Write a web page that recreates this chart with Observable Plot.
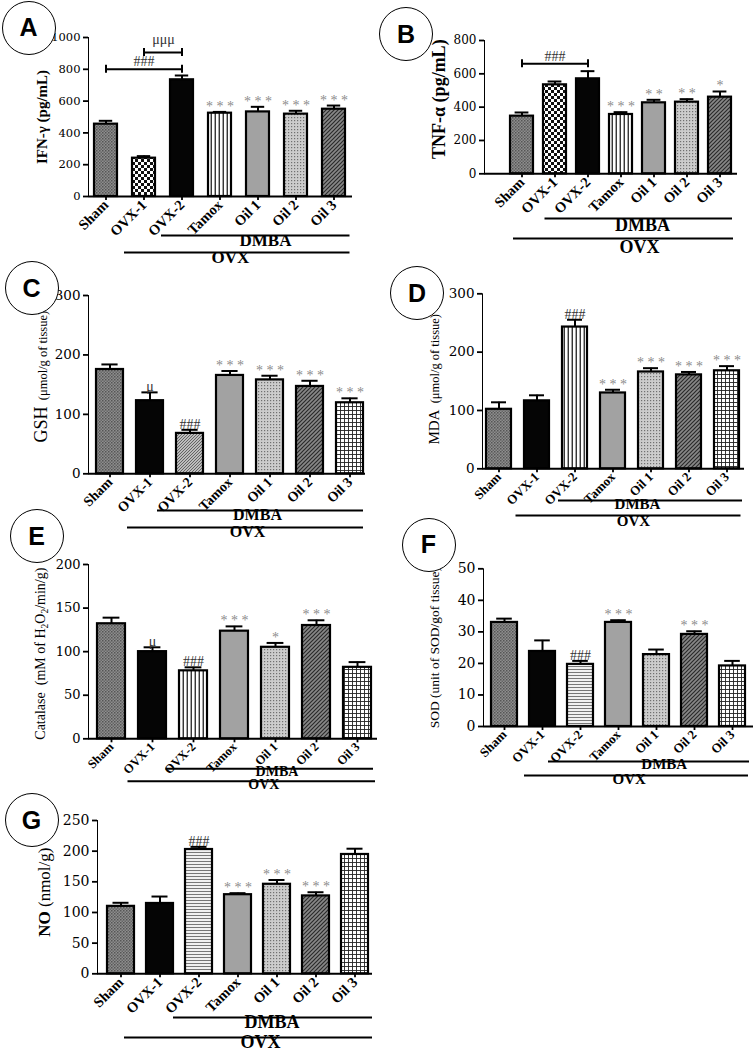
<!DOCTYPE html>
<html>
<head>
<meta charset="utf-8">
<script src="https://cdn.jsdelivr.net/npm/d3@7"></script>
<script src="https://cdn.jsdelivr.net/npm/@observablehq/plot@0.6"></script>
<style>
  body { margin: 0; background: #fff; }
  #fig { position: relative; width: 754px; height: 1052px; overflow: hidden; background: #fff; }
  #fig svg.panel { position: absolute; }
  #fig svg [aria-label^="x-axis"] text { font-family: "Liberation Serif", serif; font-weight: bold; font-size: var(--xfs, 13px) !important; }
  #fig svg [aria-label^="x-axis"], #fig svg [aria-label^="y-axis"] { stroke-width: 1.8px; }
  .badge { position: absolute; width: 54px; height: 54px; margin: -27px 0 0 -27px; border: 1.4px solid #000; border-radius: 50%;
           background: #fff; box-sizing: border-box; display: flex; align-items: center; justify-content: center;
           font: bold 25px "Liberation Sans", Arial, sans-serif; color: #000; }
</style>
</head>
<body>
<svg width="0" height="0" style="position:absolute">
  <defs>
    <pattern id="p-tex" width="3" height="3" patternUnits="userSpaceOnUse">
      <rect width="3" height="3" fill="#8e8e8e"/>
      <rect width="1.5" height="1.5" fill="#555"/>
      <rect x="1.5" y="1.5" width="1.5" height="1.5" fill="#666"/>
    </pattern>
    <pattern id="p-check" width="6" height="6" patternUnits="userSpaceOnUse">
      <rect width="6" height="6" fill="#fff"/>
      <rect width="3" height="3" fill="#111"/>
      <rect x="3" y="3" width="3" height="3" fill="#111"/>
    </pattern>
    <pattern id="p-vlines" width="4" height="4" patternUnits="userSpaceOnUse">
      <rect width="4" height="4" fill="#fff"/>
      <rect x="2.6" width="1.3" height="4" fill="#222"/>
    </pattern>
    <pattern id="p-hlines" width="4" height="3" patternUnits="userSpaceOnUse">
      <rect width="4" height="3" fill="#f0f0f0"/>
      <rect y="2" width="4" height="1" fill="#777"/>
    </pattern>
    <pattern id="p-dots" width="3" height="3" patternUnits="userSpaceOnUse">
      <rect width="3" height="3" fill="#cccccc"/>
      <rect width="1.2" height="1.2" fill="#707070"/>
    </pattern>
    <pattern id="p-diag" width="4" height="4" patternUnits="userSpaceOnUse">
      <rect width="4" height="4" fill="#888"/>
      <path d="M-1,1 l2,-2 M0,4 l4,-4 M3,5 l2,-2" stroke="#2a2a2a" stroke-width="1.2"/>
    </pattern>
    <pattern id="p-diaglight" width="3" height="3" patternUnits="userSpaceOnUse">
      <rect width="3" height="3" fill="#bdbdbd"/>
      <path d="M-1,1 l2,-2 M0,3 l3,-3 M2,4 l2,-2" stroke="#5a5a5a" stroke-width="0.9"/>
    </pattern>
    <pattern id="p-grid" width="4" height="4" patternUnits="userSpaceOnUse">
      <rect width="4" height="4" fill="#fff"/>
      <path d="M0,0.5H4M0.5,0V4" stroke="#222" stroke-width="0.9"/>
    </pattern>
  </defs>
</svg>
<div id="fig"></div>
<script>
// ---------- data ----------
const groups = ["Sham", "OVX-1", "OVX-2", "Tamox", "Oil 1", "Oil 2", "Oil 3"];
const groupSpans = [
  {name: "DMBA", from: "OVX-2", to: "Oil 3"},
  {name: "OVX", from: "OVX-1", to: "Oil 3"}
];

// A: IFN-γ
const ifnMean = [455, 241, 734, 524, 532, 518, 549];
const ifnSem  = [21, 13, 27, 8, 32, 21, 23];
const ifnSig  = ["", "", "", "***", "***", "***", "***"];
const ifnTicks = [0, 200, 400, 600, 800, 1000];
const ifnBrackets = [
  {from: "Sham", to: "OVX-2", y: 800, label: "###"},
  {from: "OVX-1", to: "OVX-2", y: 905, label: "μμμ"}
];
// B: TNF-α
const tnfMean = [346, 534, 570, 356, 426, 430, 460];
const tnfSem  = [22, 20, 46, 14, 18, 18, 34];
const tnfSig  = ["", "", "", "***", "**", "**", "*"];
const tnfTicks = [0, 200, 400, 600, 800];
const tnfBrackets = [{from: "Sham", to: "OVX-2", y: 660, label: "###"}];
// C: GSH
const gshMean = [175.5, 123, 68, 165.5, 158, 147, 119.5];
const gshSem  = [8.5, 14, 6, 7.5, 7, 9.5, 7.5];
const gshSig  = ["", "μ", "###", "***", "***", "***", "***"];
const gshTicks = [0, 100, 200, 300];
// D: MDA
const mdaMean = [102, 116.5, 243, 130, 166, 161, 168];
const mdaSem  = [12, 9.5, 12.5, 5.5, 6.5, 5, 8];
const mdaSig  = ["", "", "###", "***", "***", "***", "***"];
const mdaTicks = [0, 100, 200, 300];
// E: Catalase
const catMean = [132, 100, 78, 123.5, 105, 130, 82];
const catSem  = [7, 5, 4, 5.5, 5, 6, 6];
const catSig  = ["", "μ", "###", "***", "*", "***", ""];
const catTicks = [0, 50, 100, 150, 200];
// F: SOD
const sodMean = [33, 23.8, 19.7, 33, 22.8, 29.2, 19.2];
const sodSem  = [1.2, 3.5, 1.1, 0.7, 1.6, 1.0, 1.6];
const sodSig  = ["", "", "###", "***", "", "***", ""];
const sodTicks = [0, 10, 20, 30, 40, 50];
// G: NO
const noMean = [110, 114.7, 202.7, 129, 146, 127, 194.6];
const noSem  = [5.8, 11.3, 4.3, 2.5, 7, 6, 9.4];
const noSig  = ["", "", "###", "***", "***", "***", ""];
const noTicks = [0, 50, 100, 150, 200, 250];

// ---------- styles (bar fills per panel) ----------
const fills = {
  A: ["tex", "check", "black", "vlines", "gray", "dots", "diag"],
  B: ["tex", "check", "black", "vlines", "gray", "dots", "diag"],
  C: ["tex", "black", "diaglight", "gray", "dots", "diag", "grid"],
  D: ["tex", "black", "vlines", "gray", "dots", "diag", "grid"],
  E: ["tex", "black", "vlines", "gray", "dots", "diag", "grid"],
  F: ["tex", "black", "hlines", "gray", "dots", "diag", "grid"],
  G: ["tex", "black", "hlines", "gray", "dots", "diag", "grid"]
};
function fillFor(n) {
  if (n === "black") return "#050505";
  if (n === "gray") return "#a2a2a2";
  return `url(#p-${n})`;
}

// y-axis titles (text parts: [text, size, weight, shift])
const labels = {
  A: [["IFN-γ (pg/mL)", 15, "bold"]],
  B: [["TNF-α (pg/mL)", 18, "bold"]],
  C: [["GSH", 18, "normal"], ["  (μmol/g of tissue)", 12.5, "normal"]],
  D: [["MDA", 15, "normal"], ["  (μmol/g of tissue)", 12.5, "normal"]],
  E: [["Catalase  (mM of H", 14, "normal"], ["2", 9.5, "normal", 3], ["O", 14, "normal", -3], ["2", 9.5, "normal", 3], ["/min/g)", 14, "normal", -3]],
  F: [["SOD (unit of SOD/gof tissue)", 13.5, "normal"]],
  G: [["NO", 17, "bold"], [" (nmol/g)", 17, "normal"]]
};

// ---------- layout (page pixels) ----------
const layouts = {
  A: {left: 0, top: 0, width: 377, height: 275, frameLeft: 88, frameRight: 352, yTop: 37, y0: 196, c0: 103.5, c6: 336.5, bw: 24, tickFs: 11.5, xfs: 14.5, lab: [-46, 0],
      dmba: {line: [39, -9, -4.5], text: [45, 49]}, ovx: {line: [56, -8, -4.5], text: [10, 66]}, gfs: 17},
  B: {left: 377, top: 0, width: 377, height: 265, frameLeft: 484, frameRight: 737, yTop: 40, y0: 173.3, c0: 519.7, c6: 721.5, bw: 23, tickFs: 12, xfs: 14.5, lab: [-44, -8],
      dmba: {line: [44.7, -31.5, -1], text: [31.5, 56.7]}, ovx: {line: [64.7, -30, -2], text: [28.5, 78.7]}, gfs: 18},
  C: {left: 0, top: 262, width: 377, height: 285, frameLeft: 88, frameRight: 365, yTop: 295, y0: 473.3, c0: 109, c6: 350, bw: 27, tickFs: 13.5, xfs: 14, lab: [-46, -8],
      dmba: {line: [36.7, -19, 0], text: [30.5, 45.7]}, ovx: {line: [53.7, -9, 0], text: [20.5, 62.7]}, gfs: 16},
  D: {left: 377, top: 262, width: 377, height: 275, frameLeft: 482, frameRight: 744, yTop: 293.3, y0: 468.3, c0: 497.7, c6: 727.7, bw: 25, tickFs: 13.5, xfs: 13, lab: [-48, -2],
      dmba: {line: [31.6, -4, -3], text: [24, 40]}, ovx: {line: [46.7, -8.5, -1.5], text: [20, 56.7]}, gfs: 15},
  E: {left: 0, top: 505, width: 377, height: 295, frameLeft: 88, frameRight: 377, yTop: 564, y0: 738.3, c0: 110, c6: 357, bw: 28, tickFs: 13, xfs: 12.5, lab: [-48, 2],
      dmba: {line: [30, -13.5, -2], text: [44, 37]}, ovx: {line: [42.4, -10.5, -4], text: [30.8, 50]}, gfs: 14},
  F: {left: 377, top: 505, width: 377, height: 290, frameLeft: 483, frameRight: 753, yTop: 568.3, y0: 726, c0: 501.7, c6: 733.3, bw: 26, tickFs: 14, xfs: 13, lab: [-49, 0],
      dmba: {line: [35, -19, -4], text: [45.7, 42]}, ovx: {line: [49, -5, -3], text: [10.7, 57]}, gfs: 15},
  G: {left: 0, top: 790, width: 377, height: 262, frameLeft: 97, frameRight: 372, yTop: 820, y0: 973.3, c0: 119, c6: 355.5, bw: 27.5, tickFs: 14, xfs: 14.5, lab: [-52, -5],
      dmba: {line: [43.7, -12, -4], text: [37, 53.7]}, ovx: {line: [63.7, -22, -4], text: [25.5, 73.7]}, gfs: 18}
};

const panels = [
  {key: "A", mean: ifnMean, sem: ifnSem, sig: ifnSig, ticks: ifnTicks, brackets: ifnBrackets},
  {key: "B", mean: tnfMean, sem: tnfSem, sig: tnfSig, ticks: tnfTicks, brackets: tnfBrackets},
  {key: "C", mean: gshMean, sem: gshSem, sig: gshSig, ticks: gshTicks, brackets: []},
  {key: "D", mean: mdaMean, sem: mdaSem, sig: mdaSig, ticks: mdaTicks, brackets: []},
  {key: "E", mean: catMean, sem: catSem, sig: catSig, ticks: catTicks, brackets: []},
  {key: "F", mean: sodMean, sem: sodSem, sig: sodSig, ticks: sodTicks, brackets: []},
  {key: "G", mean: noMean, sem: noSem, sig: noSig, ticks: noTicks, brackets: []}
];

const badges = {A: [28.5, 27.5], B: [406, 34], C: [31.5, 288], D: [417, 293], E: [36.5, 536], F: [428.5, 544.5], G: [31.5, 820]};

const fig = document.getElementById("fig");
const serif = "Liberation Serif, Times New Roman, serif";

function drawPanel(p) {
  const L = layouts[p.key];
  const rows = groups.map((g, i) => ({
    g, m: p.mean[i], top: p.mean[i] + p.sem[i], sig: p.sig[i], fill: fillFor(fills[p.key][i])
  }));
  const step = (L.c6 - L.c0) / 6;
  const yMax = p.ticks[p.ticks.length - 1];
  const capD = 4 * yMax / (L.y0 - L.yTop);
  const brEnds = p.brackets.flatMap(b => [{x: b.from, y: b.y}, {x: b.to, y: b.y}]);
  const brLabelMarks = p.brackets.map(b => {
    const mid = (groups.indexOf(b.from) + groups.indexOf(b.to)) / 2;
    const base = Math.floor(mid);
    return Plot.text([b], {x: () => groups[base], y: "y", text: "label", dx: (mid - base) * step, dy: b.label.includes("μ") ? -9 : -3,
      lineAnchor: "bottom", fontSize: 14, fontFamily: serif, fill: "#333"});
  });
  const spanMarks = groupSpans.flatMap(s => {
    const cfg = s.name === "DMBA" ? L.dmba : L.ovx;
    return [
      Plot.ruleY([s], {x1: "from", x2: "to", y: () => 0, dy: cfg.line[0], insetLeft: cfg.line[1], insetRight: cfg.line[2], strokeWidth: 2}),
      Plot.text([s], {frameAnchor: "bottom", textAnchor: "middle", text: "name", dx: cfg.text[0], dy: cfg.text[1], fontWeight: "bold", fontSize: L.gfs, fontFamily: serif})
    ];
  });
  const yKey = labels[p.key].map(d => d[0]).join("");

  const svg = Plot.plot({
    width: L.width,
    height: L.height,
    marginLeft: L.frameLeft - L.left,
    marginRight: L.left + L.width - L.frameRight,
    marginTop: L.yTop - L.top,
    marginBottom: L.top + L.height - L.y0,
    style: {background: "transparent", overflow: "visible", fontFamily: "DejaVu Serif, serif", fontSize: L.tickFs + "px", color: "#000"},
    x: {domain: groups, range: [L.c0 - L.bw / 2 - L.left, L.c6 + L.bw / 2 - L.left], paddingInner: 1 - L.bw / step, paddingOuter: 0,
        label: null, tickSize: 4, tickPadding: 2, tickRotate: -45},
    y: {domain: [0, yMax], ticks: p.ticks, tickFormat: d3.format("d"), tickSize: 5, tickPadding: 3, label: null, line: true},
    color: {type: "identity"},
    marks: [
      Plot.barY(rows, {x: "g", y: "m", fill: "fill", stroke: "#000", strokeWidth: 2.2}),
      Plot.ruleX(rows, {x: "g", y1: "m", y2: "top", strokeWidth: 2}),
      Plot.tickY(rows, {x: "g", y: "top", strokeWidth: 2, inset: L.bw * 0.2}),
      Plot.text(rows, {x: "g", y: "top", text: d => d.sig.startsWith("*") ? d.sig.split("").join(" ") : d.sig,
        lineAnchor: "bottom", dy: -1, fontSize: 14, fontFamily: serif,
        fill: d => d.sig.startsWith("*") ? "#8c8c8c" : "#333333"}),
      Plot.link(p.brackets, {x1: "from", x2: "to", y1: "y", y2: "y", strokeWidth: 2}),
      Plot.ruleX(brEnds, {x: "x", y1: d => d.y - capD, y2: d => d.y + capD, strokeWidth: 2}),
      ...brLabelMarks,
      Plot.ruleY([0], {strokeWidth: 2}),
      ...spanMarks,
      Plot.text([yKey], {frameAnchor: "left", textAnchor: "middle", rotate: -90, text: d => d, dx: L.lab[0], dy: L.lab[1], fontSize: 14, fontFamily: serif})
    ]
  });
  svg.classList.add("panel");
  svg.style.left = L.left + "px";
  svg.style.top = L.top + "px";
  svg.style.setProperty("--xfs", L.xfs + "px");

  // rich y-axis title (mixed sizes, subscripts)
  for (const t of svg.querySelectorAll("text")) {
    if (t.textContent === yKey) {
      t.removeAttribute("font-size");
      t.setAttribute("text-anchor", "middle");
      t.style.whiteSpace = "pre";
      t.textContent = "";
      for (const [txt, size, weight, shift] of labels[p.key]) {
        const ts = document.createElementNS("http://www.w3.org/2000/svg", "tspan");
        ts.textContent = txt;
        ts.setAttribute("font-size", size);
        ts.setAttribute("font-weight", weight);
        if (shift) ts.setAttribute("dy", shift);
        t.appendChild(ts);
      }
    }
  }
  fig.appendChild(svg);
}

panels.forEach(drawPanel);

for (const [k, [cx, cy]] of Object.entries(badges)) {
  const b = document.createElement("div");
  b.className = "badge";
  b.style.left = cx + "px";
  b.style.top = cy + "px";
  b.textContent = k;
  fig.appendChild(b);
}
</script>
</body>
</html>
